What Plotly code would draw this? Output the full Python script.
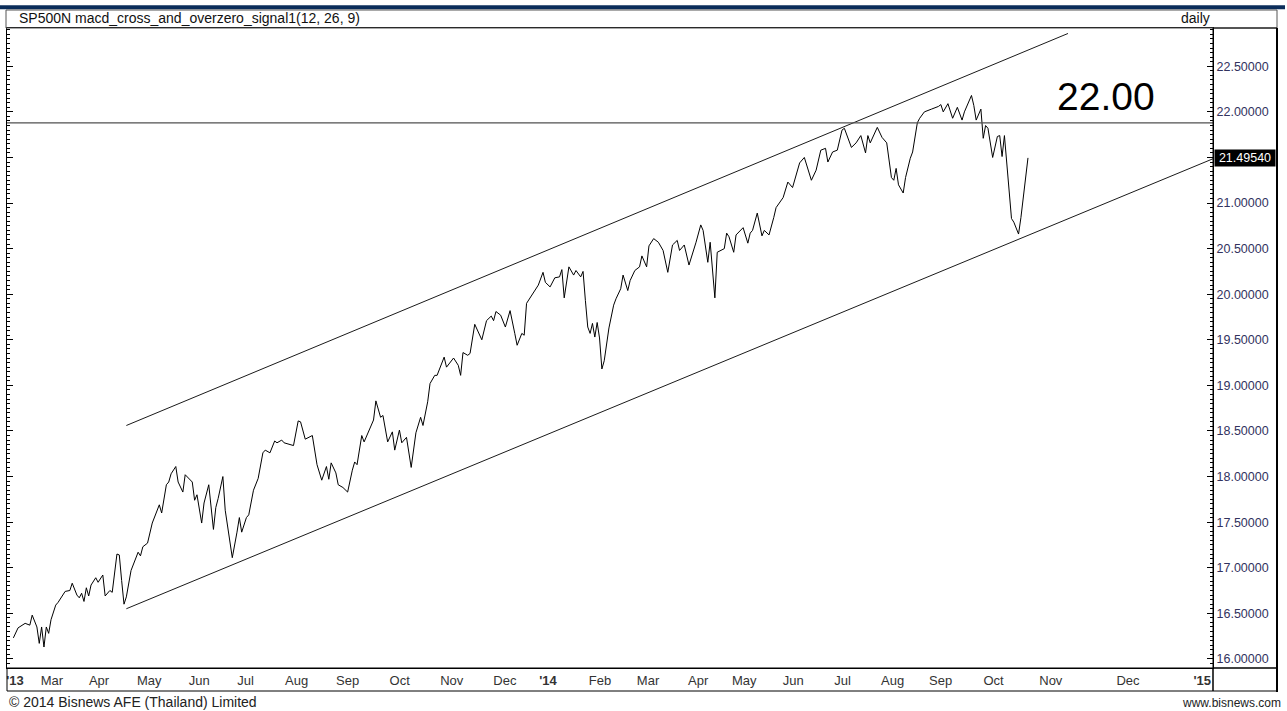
import plotly.graph_objects as go

# ---------------- data ----------------
# trading-session index (0 = first session shown, early Feb 2013)
session = [
    1, 3, 6, 8, 9, 11, 12, 13, 14, 15,
    16, 17, 19, 20, 23, 25, 26, 28, 29, 30,
    31, 32, 33, 34, 36, 37, 39, 40, 42, 43,
    45, 46, 47, 48, 49, 51, 54, 55, 56, 58,
    60, 61, 63, 64, 66, 67, 68, 70, 71, 73,
    74, 77, 78, 79, 81, 82, 84, 86, 87, 88,
    90, 91, 94, 96, 97, 98, 100, 101, 103, 105,
    107, 108, 110, 112, 113, 115, 116, 120, 122, 123,
    125, 128, 130, 132, 134, 135, 136, 138, 139, 141,
    143, 145, 146, 147, 149, 150, 152, 154, 155, 157,
    158, 159, 160, 162, 163, 165, 166, 168, 170, 172,
    174, 175, 177, 178, 180, 181, 184, 185, 188, 190,
    191, 192, 194, 195, 196, 197, 200, 202, 204, 205,
    206, 208, 210, 212, 214, 215, 217, 218, 219, 222,
    224, 226, 227, 229, 231, 233, 234, 235, 237, 239,
    240, 242, 243, 244, 245, 246, 247, 248, 249, 250,
    251, 252, 254, 256, 257, 259, 260, 262, 263, 265,
    267, 268, 270, 271, 273, 275, 277, 279, 280, 281,
    283, 284, 286, 288, 291, 293, 294, 296, 297, 298,
    299, 300, 303, 304, 305, 307, 308, 311, 313, 314,
    315, 317, 319, 320, 322, 324, 325, 328, 329, 330,
    332, 334, 335, 337, 340, 342, 344, 346, 347, 349,
    351, 353, 354, 357, 359, 361, 363, 364, 365, 368,
    370, 372, 374, 375, 376, 377, 379, 380, 382, 383,
    385, 386, 388, 391, 394, 395, 396, 398, 400, 402,
    404, 405, 408, 409, 410, 412, 413, 414, 415, 417,
    419, 420, 421, 422, 423, 425, 426, 428, 429, 432,
]
close = [
    16.23, 16.34, 16.39, 16.37, 16.48, 16.35, 16.17, 16.35, 16.13, 16.35,
    16.28, 16.43, 16.59, 16.62, 16.74, 16.75, 16.83, 16.70, 16.67, 16.72,
    16.63, 16.78, 16.69, 16.81, 16.89, 16.84, 16.92, 16.69, 16.75, 16.73,
    17.15, 17.14, 16.86, 16.60, 16.68, 16.97, 17.17, 17.13, 17.23, 17.27,
    17.49, 17.55, 17.69, 17.60, 17.91, 17.94, 18.03, 18.11, 17.94, 17.83,
    18.02, 17.94, 17.74, 17.80, 17.49, 17.71, 17.91, 17.42, 17.66, 17.76,
    18.00, 17.63, 17.11, 17.39, 17.55, 17.39, 17.55, 17.58, 17.85, 17.98,
    18.26, 18.29, 18.26, 18.39, 18.37, 18.40, 18.37, 18.34, 18.61, 18.60,
    18.41, 18.45, 18.13, 17.96, 18.11, 17.97, 18.15, 18.04, 17.91, 17.88,
    17.83, 18.07, 18.16, 18.13, 18.45, 18.38, 18.51, 18.62, 18.83, 18.65,
    18.67, 18.51, 18.38, 18.49, 18.29, 18.51, 18.37, 18.43, 18.10, 18.48,
    18.65, 18.56, 18.82, 19.02, 19.11, 19.11, 19.31, 19.20, 19.30, 19.22,
    19.11, 19.36, 19.33, 19.35, 19.52, 19.67, 19.50, 19.71, 19.76, 19.71,
    19.81, 19.77, 19.64, 19.82, 19.57, 19.44, 19.57, 19.55, 19.90, 20.02,
    20.10, 20.24, 20.13, 20.08, 20.18, 20.19, 20.27, 19.96, 20.30, 20.21,
    20.26, 20.19, 20.25, 19.93, 19.64, 19.57, 19.68, 19.53, 19.69, 19.52,
    19.18, 19.27, 19.63, 19.88, 19.95, 20.06, 20.21, 20.04, 20.15, 20.26,
    20.30, 20.42, 20.30, 20.53, 20.61, 20.57, 20.48, 20.24, 20.41, 20.54,
    20.59, 20.48, 20.54, 20.32, 20.57, 20.76, 20.70, 20.35, 20.57, 20.26,
    19.96, 20.46, 20.50, 20.67, 20.63, 20.46, 20.65, 20.73, 20.56, 20.67,
    20.70, 20.89, 20.64, 20.70, 20.65, 20.84, 20.95, 21.06, 21.15, 21.23,
    21.17, 21.34, 21.44, 21.50, 21.25, 21.36, 21.58, 21.60, 21.45, 21.56,
    21.58, 21.80, 21.82, 21.61, 21.66, 21.74, 21.55, 21.74, 21.66, 21.83,
    21.72, 21.66, 21.28, 21.25, 21.38, 21.20, 21.11, 21.28, 21.49, 21.56,
    21.88, 21.93, 22.00, 22.03, 22.06, 22.08, 22.00, 22.09, 21.93, 22.05,
    21.91, 22.00, 22.18, 22.07, 21.91, 22.03, 21.71, 21.85, 21.82, 21.50,
    21.73, 21.74, 21.51, 21.74, 21.43, 20.83, 20.79, 20.66, 20.84, 21.4954,
]

# channel trend lines (session, value)
upper_x = [49, 449]
upper_y = [18.56, 22.86]
lower_x = [49, 511]
lower_y = [16.55, 21.49]
level_value = 21.88
level_label = "22.00"
last_label = "21.49540"

# month axis labels
tick_pos = [1.7, 17.4, 37.4, 58.7, 80.0, 99.6, 121.3, 143.0, 165.1, 187.2, 209.8,
            228.1, 250.2, 270.6, 291.9, 311.5, 332.3, 353.2, 374.5, 394.9, 417.4,
            441.7, 474.5, 506.0]
tick_text = ["<b>'13</b>", "Mar", "Apr", "May", "Jun", "Jul", "Aug", "Sep", "Oct", "Nov", "Dec",
             "<b>'14</b>", "Feb", "Mar", "Apr", "May", "Jun", "Jul", "Aug", "Sep", "Oct",
             "Nov", "Dec", "<b>'15</b>"]

title_text = "SP500N macd_cross_and_overzero_signal1(12, 26, 9)"
period_text = "daily"
footer_left = "© 2014 Bisnews AFE (Thailand) Limited"
footer_right = "www.bisnews.com"

# ---------------- layout helpers ----------------
W, H = 1287, 711
ML, MR, MT, MB = 7, 74, 28, 43
PW = W - ML - MR
PH = H - MT - MB


def fx(px):
    return (px - ML) / PW


def fy(py):
    return (H - MB - py) / PH


FONT = "Liberation Sans, Arial, sans-serif"

fig = go.Figure()
fig.add_trace(go.Scatter(x=upper_x, y=upper_y, mode="lines",
                         line=dict(color="#1a1a1a", width=1), hoverinfo="skip"))
fig.add_trace(go.Scatter(x=lower_x, y=lower_y, mode="lines",
                         line=dict(color="#1a1a1a", width=1), hoverinfo="skip"))
fig.add_trace(go.Scatter(x=session, y=close, mode="lines",
                         line=dict(color="#000000", width=1), hoverinfo="skip"))

shapes = [
    # horizontal level
    dict(type="line", xref="paper", yref="y", x0=0, x1=1, y0=level_value, y1=level_value,
         line=dict(color="#505050", width=1.3)),
    # navy header band
    dict(type="rect", xref="paper", yref="paper", x0=fx(0), x1=fx(1285), y0=fy(9.3), y1=fy(5.3),
         fillcolor="#0b2d5a", line=dict(width=0), layer="above"),
    # title box
    dict(type="rect", xref="paper", yref="paper", x0=fx(6), x1=fx(1277), y0=fy(28), y1=fy(10),
         line=dict(color="#555555", width=1)),
    # y label panel
    dict(type="rect", xref="paper", yref="paper", x0=1, x1=fx(1277), y0=0, y1=1,
         line=dict(color="#000000", width=1)),
    dict(type="line", xref="paper", yref="paper", x0=fx(1277), x1=fx(1277), y0=fy(692), y1=1,
         line=dict(color="#000000", width=2)),
    # x label band
    dict(type="rect", xref="paper", yref="paper", x0=0, x1=1, y0=fy(691), y1=0,
         line=dict(color="#000000", width=1)),
    dict(type="rect", xref="paper", yref="paper", x0=1, x1=fx(1277), y0=fy(691), y1=0,
         line=dict(color="#000000", width=1)),
]

annotations = [
    dict(xref="paper", yref="paper", x=fx(17), y=fy(18.5), xanchor="left", yanchor="middle",
         text=title_text, showarrow=False, font=dict(family=FONT, size=14, color="#111111")),
    dict(xref="paper", yref="paper", x=fx(1195), y=fy(18.5), xanchor="center", yanchor="middle",
         text=period_text, showarrow=False, font=dict(family=FONT, size=14, color="#111111")),
    dict(xref="paper", yref="paper", x=fx(1055), y=fy(97), xanchor="left", yanchor="middle",
         text=level_label, showarrow=False, font=dict(family=FONT, size=39, color="#000000")),
    dict(xref="paper", yref="y", x=fx(1214), y=close[-1], xanchor="left", yanchor="middle",
         text=last_label, showarrow=False, bgcolor="#000000", borderpad=1, width=58,
         font=dict(family=FONT, size=12.5, color="#ffffff")),
    dict(xref="paper", yref="paper", x=fx(7), y=fy(702), xanchor="left", yanchor="middle",
         text=footer_left, showarrow=False, font=dict(family=FONT, size=14, color="#222222")),
    dict(xref="paper", yref="paper", x=fx(1283), y=fy(703), xanchor="right", yanchor="middle",
         text=footer_right, showarrow=False, font=dict(family=FONT, size=12, color="#222222")),
]

fig.update_layout(
    width=W, height=H,
    margin=dict(l=ML, r=MR, t=MT, b=MB, pad=0),
    paper_bgcolor="#ffffff", plot_bgcolor="#ffffff",
    showlegend=False, hovermode=False,
    shapes=shapes, annotations=annotations,
    xaxis=dict(range=[-1.7, 510.6], tickmode="array", tickvals=tick_pos, ticktext=tick_text,
               ticks="", showgrid=False, zeroline=False, showline=True, mirror=True,
               linecolor="#000000", linewidth=1,
               tickfont=dict(family=FONT, size=13, color="#333333")),
    yaxis=dict(range=[15.90, 22.92], side="right", tick0=16, dtick=0.5, tickformat=".5f",
               ticks="inside", ticklen=6, tickcolor="#000000", showgrid=False, zeroline=False,
               showline=True, mirror="ticks", linecolor="#000000", linewidth=1,
               minor=dict(dtick=0.05, ticks="inside", ticklen=3, tickcolor="#000000", showgrid=False),
               tickfont=dict(family=FONT, size=12.5, color="#32325e")),
)

fig.write_html(
    "out.html",
    config={"displayModeBar": False},
    post_script="document.body.style.margin='0';document.body.style.overflow='hidden';",
)
